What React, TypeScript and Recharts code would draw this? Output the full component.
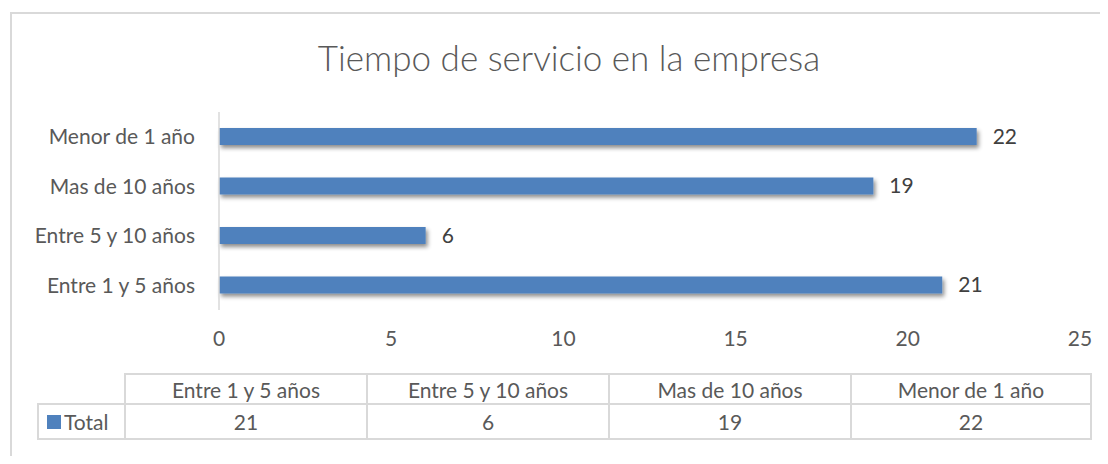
import React from 'react';
import { BarChart, Bar, XAxis, YAxis, LabelList } from 'recharts';

const title = 'Tiempo de servicio en la empresa';
const categories = ['Entre 1 y 5 años', 'Entre 5 y 10 años', 'Mas de 10 años', 'Menor de 1 año'];
const totals = [21, 6, 19, 22];
const seriesName = 'Total';
const xTicks = [0, 5, 10, 15, 20, 25];

const data = categories.map((name, i) => ({ name, total: totals[i] }));

const FONT = 'Lato, "Open Sans", sans-serif';
const TEXT = '#595959';
const GRID = '#d9d9d9';
const BLUE = '#4f81bd';
const FS = 21;

const ShadowBar = (props: any) => {
  const { x, y, width, height, fill } = props;
  return <rect x={x} y={y} width={width} height={height} fill={fill} filter="url(#barShadow)" />;
};

const cell: React.CSSProperties = {
  boxSizing: 'border-box',
  display: 'flex',
  alignItems: 'center',
  justifyContent: 'center',
  fontSize: FS,
  color: TEXT,
};

export default function App() {
  const colW = 242;
  const legendW = 87;
  return (
    <div style={{ position: 'relative', width: 1100, height: 448, fontFamily: FONT, overflow: 'hidden' }}>
      {/* outer frame, only top and left edges show */}
      <div
        style={{
          position: 'absolute',
          left: 2,
          top: 4,
          width: 1200,
          height: 600,
          borderTop: `2px solid ${GRID}`,
          borderLeft: `2px solid ${GRID}`,
        }}
      />
      <div
        style={{
          position: 'absolute',
          left: 0,
          width: 1122,
          top: 28,
          textAlign: 'center',
          fontSize: 35,
          fontWeight: 300,
          color: TEXT,
        }}
      >
        {title}
      </div>
      <div style={{ position: 'absolute', left: 0, top: 0 }}>
        <BarChart
          width={1100}
          height={448}
          data={data}
          layout="vertical"
          margin={{ top: 104, right: 28, bottom: 116, left: 0 }}
          barCategoryGap={16}
        >
          <defs>
            <filter id="barShadow" x="-5%" y="-50%" width="115%" height="250%">
              <feDropShadow dx="2" dy="3" stdDeviation="2.2" floodColor="#000" floodOpacity="0.45" />
            </filter>
          </defs>
          <XAxis
            type="number"
            domain={[0, 25]}
            ticks={xTicks}
            axisLine={false}
            tickLine={false}
            tickMargin={15}
            height={30}
            tick={{ fill: TEXT, fontSize: FS, fontFamily: FONT }}
          />
          <YAxis
            type="category"
            dataKey="name"
            reversed
            width={211}
            axisLine={{ stroke: GRID, strokeWidth: 1.5 }}
            tickLine={false}
            tickMargin={18}
            tick={{ fill: TEXT, fontSize: FS, fontFamily: FONT }}
          />
          <Bar dataKey="total" fill={BLUE} barSize={17} isAnimationActive={false} shape={ShadowBar}>
            <LabelList
              dataKey="total"
              position="right"
              offset={16}
              style={{ fill: '#404040', fontSize: FS, fontFamily: FONT }}
            />
          </Bar>
        </BarChart>
      </div>
      {/* data table below the chart */}
      <div style={{ position: 'absolute', left: 29, top: 365 }}>
        <div style={{ display: 'flex', marginLeft: legendW }}>
          {categories.map((c, i) => (
            <div
              key={c}
              style={{
                ...cell,
                width: colW,
                height: 30,
                borderTop: `2px solid ${GRID}`,
                borderLeft: `2px solid ${GRID}`,
                borderRight: i === categories.length - 1 ? `2px solid ${GRID}` : undefined,
              }}
            >
              {c}
            </div>
          ))}
        </div>
        <div style={{ display: 'flex' }}>
          <div
            style={{
              ...cell,
              width: legendW,
              height: 37,
              justifyContent: 'flex-start',
              paddingLeft: 8,
              border: `2px solid ${GRID}`,
              borderRight: 'none',
            }}
          >
            <span style={{ display: 'inline-block', width: 14, height: 14, background: BLUE, marginRight: 3 }} />
            {seriesName}
          </div>
          {totals.map((v, i) => (
            <div
              key={i}
              style={{
                ...cell,
                width: colW,
                height: 37,
                border: `2px solid ${GRID}`,
                borderRight: i === totals.length - 1 ? `2px solid ${GRID}` : 'none',
              }}
            >
              {v}
            </div>
          ))}
        </div>
      </div>
    </div>
  );
}
